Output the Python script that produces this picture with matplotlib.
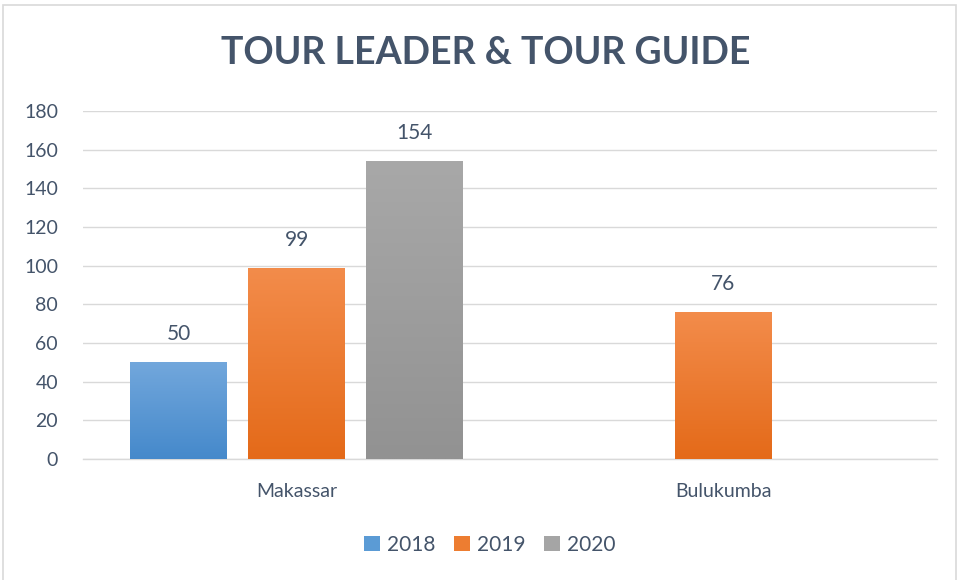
import matplotlib
matplotlib.use("Agg")
import matplotlib.pyplot as plt
import numpy as np
from matplotlib.patches import Rectangle, Patch

categories = ["Makassar", "Bulukumba"]
series_names = ["2018", "2019", "2020"]
values_2018 = [50, np.nan]
values_2019 = [99, 76]
values_2020 = [154, np.nan]
yticks = [0, 20, 40, 60, 80, 100, 120, 140, 160, 180]

series_values = [values_2018, values_2019, values_2020]
top_colors = ["#72A7DC", "#F38C4B", "#A8A8A8"]
bottom_colors = ["#4589CB", "#E46A19", "#929292"]
legend_colors = ["#5B9BD5", "#ED7D31", "#A5A5A5"]
text_color = "#44546A"

plt.rcParams['font.family'] = ['Lato', 'DejaVu Sans']

fig = plt.figure(figsize=(9.58, 5.80), dpi=100)
ax = fig.add_axes([83/958, 1 - 459/580, (937-83)/958, (459-111)/580])

# figure border
fig.patches.append(Rectangle((3/958, -0.01), 953/958, 1 - 5/580 + 0.01,
                             transform=fig.transFigure, fill=False,
                             edgecolor="#D9D9D9", linewidth=1.2))

x = np.arange(len(categories))
width = 0.227
step = 0.276

def hex2rgb(h):
    h = h.lstrip('#')
    return np.array([int(h[i:i+2], 16) / 255 for i in (0, 2, 4)])

for i, (vals, name) in enumerate(zip(series_values, series_names)):
    offs = (i - 1) * step
    bars = ax.bar(x + offs, vals, width, color=legend_colors[i], zorder=2, label=name)
    c1 = hex2rgb(top_colors[i]); c2 = hex2rgb(bottom_colors[i])
    grad = np.linspace(0, 1, 256)[:, None]
    img = (c1[None, None, :] * (1 - grad[:, :, None]) + c2[None, None, :] * grad[:, :, None])
    for b, v in zip(bars, vals):
        if np.isnan(v):
            continue
        bx, by = b.get_x(), b.get_y()
        bw, bh = b.get_width(), b.get_height()
        im = ax.imshow(img, extent=[bx, bx + bw, by, by + bh], aspect='auto',
                       origin='upper', zorder=3)
        im.set_clip_path(b)
        ax.annotate(f"{int(v)}", (bx + bw / 2, by + bh), xytext=(0, 13),
                    textcoords="offset points", ha="center", va="bottom",
                    fontsize=15, color=text_color)

ax.set_xlim(-0.5, 1.5)
ax.set_ylim(0, 180)
ax.set_yticks(yticks)
ax.set_xticks(x)
ax.set_xticklabels(categories)
ax.tick_params(axis='both', length=0, labelsize=14, colors=text_color)
ax.tick_params(axis='y', pad=18)
ax.tick_params(axis='x', pad=17)
ax.grid(axis='y', color="#D9D9D9", linewidth=1, zorder=0)
ax.set_axisbelow(True)
for s in ["top", "right", "left"]:
    ax.spines[s].set_visible(False)
ax.spines["bottom"].set_color("#D9D9D9")
ax.spines["bottom"].set_linewidth(1)

fig.text(486/958, 1 - 53/580, "TOUR LEADER & TOUR GUIDE", ha="center", va="center",
         fontsize=27, fontweight="bold", color=text_color)

handles = [Patch(facecolor=c, edgecolor='none') for c in legend_colors]
fig.legend(handles, series_names, loc="center", bbox_to_anchor=(490/958, 1 - 545/580),
           ncol=3, frameon=False, fontsize=15, handlelength=0.75, handleheight=0.75,
           handletextpad=0.35, columnspacing=0.9, labelcolor=text_color)

fig.savefig("out.png", dpi=100, facecolor="white")
